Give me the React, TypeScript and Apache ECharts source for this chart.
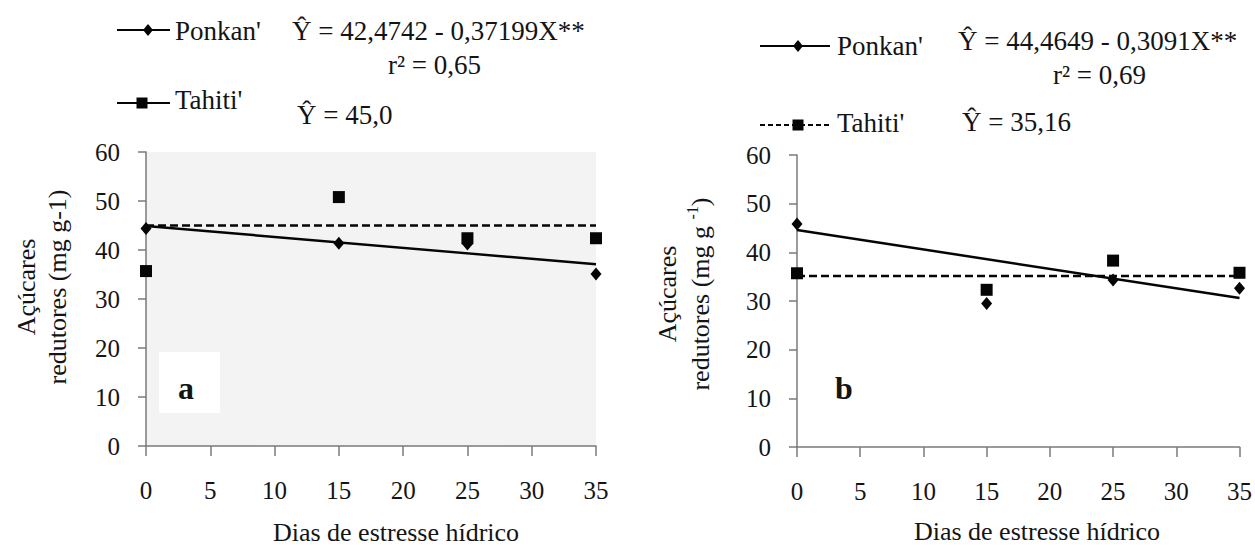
import React, { useEffect, useRef } from "react";
import * as echarts from "echarts";

// ---- data ----
const X_DAYS = [0, 15, 25, 35];
const PONKAN_A = [44.4, 41.4, 41.2, 35.1];
const TAHITI_A = [35.7, 50.8, 42.4, 42.4];
const PONKAN_B = [45.8, 29.5, 34.3, 32.6];
const TAHITI_B = [35.7, 32.3, 38.3, 35.8];
const X_FIT = [0, 35];
const FIT_PONKAN_A = [44.9, 37.1];
const FIT_TAHITI_A = [45.0, 45.0];
const FIT_PONKAN_B = [44.6, 30.6];
const FIT_TAHITI_B = [35.16, 35.16];

const FONT = "Times New Roman, Liberation Serif, serif";
const INK = "#141414";
const AXIS = "#7a7a7a";
const MARK = "#050505";

const pairs = (xs: number[], ys: number[]) => xs.map((x, i) => [x, ys[i]]);

function App() {
  const ref = useRef<HTMLDivElement>(null);
  useEffect(() => {
    if (!ref.current) return;
    const chart = echarts.init(ref.current, undefined, { renderer: "svg" });

    const xAxisBase = (gridIndex: number) => ({
      type: "value",
      gridIndex,
      min: 0,
      max: 35,
      interval: 5,
      axisLine: { show: true, onZero: false, lineStyle: { color: AXIS, width: 1.5 } },
      axisTick: { show: true, length: 10, lineStyle: { color: AXIS, width: 1.5 } },
      axisLabel: { margin: 32, fontSize: 25, color: INK, fontFamily: FONT },
      splitLine: { show: false },
    });
    const yAxisBase = (gridIndex: number) => ({
      type: "value",
      gridIndex,
      min: 0,
      max: 60,
      interval: 10,
      axisLine: { show: true, lineStyle: { color: AXIS, width: 1.5 } },
      axisTick: { show: true, length: 8, lineStyle: { color: AXIS, width: 1.5 } },
      axisLabel: { margin: 26, fontSize: 25, color: INK, fontFamily: FONT },
      splitLine: { show: false },
    });

    const scatter = (name: string, xi: number, data: number[][], symbol: string, size: any) => ({
      type: "scatter",
      name,
      xAxisIndex: xi,
      yAxisIndex: xi,
      data,
      symbol,
      symbolSize: size,
      itemStyle: { color: MARK, opacity: 1 },
      z: 5,
    });
    const fit = (name: string, xi: number, data: number[][], dashed: boolean) => ({
      type: "line",
      name,
      xAxisIndex: xi,
      yAxisIndex: xi,
      data,
      showSymbol: false,
      symbol: "none",
      lineStyle: { color: MARK, width: 2.5, type: dashed ? [8, 4] : "solid" },
      z: 3,
    });

    const txt = (text: string, x: number, y: number, size = 27, extra: any = {}) => ({
      type: "text",
      x,
      y,
      style: {
        text,
        fontSize: size,
        fontFamily: FONT,
        fill: INK,
        align: "left",
        verticalAlign: "middle",
        ...extra,
      },
      z: 10,
    });
    const diamond = (x: number, y: number) => ({
      type: "polygon",
      shape: { points: [[x, y - 6], [x + 5, y], [x, y + 6], [x - 5, y]] },
      style: { fill: MARK },
      z: 11,
    });
    const square = (x: number, y: number) => ({
      type: "rect",
      shape: { x: x - 5.5, y: y - 5.5, width: 11, height: 11 },
      style: { fill: MARK },
      z: 11,
    });
    const legLine = (x1: number, x2: number, y: number, dashed: boolean) => ({
      type: "line",
      shape: { x1, y1: y, x2, y2: y },
      style: { stroke: MARK, lineWidth: 2, lineDash: dashed ? [5, 3] : null },
      z: 10,
    });

    const option = {
      animation: false,
      backgroundColor: "#ffffff",
      textStyle: { fontFamily: FONT },
      grid: [
        { left: 146, top: 152, width: 450, height: 294, show: true, backgroundColor: "#f3f3f3", borderWidth: 0 },
        { left: 797, top: 155, width: 448, height: 292, show: false },
      ],
      xAxis: [xAxisBase(0), xAxisBase(1)],
      yAxis: [yAxisBase(0), yAxisBase(1)],
      series: [
        fit("Ponkan' ajuste", 0, pairs(X_FIT, FIT_PONKAN_A), false),
        fit("Tahiti' ajuste", 0, pairs(X_FIT, FIT_TAHITI_A), true),
        scatter("Ponkan'", 0, pairs(X_DAYS, PONKAN_A), "diamond", [11, 13]),
        scatter("Tahiti'", 0, pairs(X_DAYS, TAHITI_A), "rect", 12),
        fit("Ponkan' ajuste b", 1, pairs(X_FIT, FIT_PONKAN_B), false),
        fit("Tahiti' ajuste b", 1, pairs(X_FIT, FIT_TAHITI_B), true),
        scatter("Ponkan' b", 1, pairs(X_DAYS, PONKAN_B), "diamond", [11, 13]),
        scatter("Tahiti' b", 1, pairs(X_DAYS, TAHITI_B), "rect", 12),
      ],
      graphic: [
        // panel a label box
        { type: "rect", shape: { x: 159, y: 352, width: 61, height: 61 }, style: { fill: "#ffffff" }, z: 1 },
        txt("a", 186, 388, 32, { fontWeight: "bold", align: "center" }),
        txt("b", 844, 388, 32, { fontWeight: "bold", align: "center" }),
        // legend a
        legLine(117, 170, 30, false),
        diamond(148, 30),
        txt("Ponkan'", 175, 31),
        txt("Ŷ = 42,4742 - 0,37199X**", 292, 31),
        txt("r² = 0,65", 388, 65),
        legLine(117, 170, 103, false),
        square(142, 103),
        txt("Tahiti'", 175, 100),
        txt("Ŷ = 45,0", 297, 115),
        // legend b
        legLine(760, 830, 46, false),
        diamond(798, 46),
        txt("Ponkan'", 837, 46),
        txt("Ŷ = 44,4649 - 0,3091X**", 958, 41),
        txt("r² = 0,69", 1053, 75),
        legLine(760, 830, 125, true),
        square(798, 125),
        txt("Tahiti'", 837, 123),
        txt("Ŷ = 35,16", 962, 122),
        // axis titles
        {
          type: "text",
          x: 42,
          y: 287,
          rotation: Math.PI / 2,
          style: {
            text: "Açúcares\nredutores (mg g-1)",
            fontSize: 26,
            lineHeight: 31,
            fontFamily: FONT,
            fill: INK,
            align: "center",
            verticalAlign: "middle",
          },
          z: 10,
        },
        {
          type: "text",
          x: 684,
          y: 294,
          rotation: Math.PI / 2,
          style: {
            text: "{a|Açúcares}\n{a|redutores (mg g }{s|-1}{a|)}",
            fontFamily: FONT,
            fill: INK,
            align: "center",
            verticalAlign: "middle",
            rich: {
              a: { fontSize: 26, lineHeight: 33, fontFamily: FONT, fill: INK },
              s: { fontSize: 16, lineHeight: 33, fontFamily: FONT, fill: INK, verticalAlign: "top", padding: [0, 0, 12, 0] },
            },
          },
          z: 10,
        },
        txt("Dias de estresse hídrico", 396, 532, 26, { align: "center" }),
        txt("Dias de estresse hídrico", 1037, 531, 26, { align: "center" }),
      ],
    };

    chart.setOption(option as any);
    return () => chart.dispose();
  }, []);

  return (
    <div
      ref={ref}
      style={{ position: "absolute", left: 0, top: 0, width: 1255, height: 547, background: "#fff" }}
    />
  );
}

export default App;
